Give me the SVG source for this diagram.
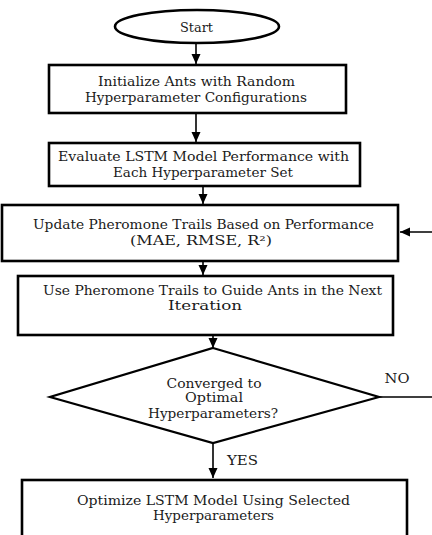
<svg xmlns="http://www.w3.org/2000/svg" width="432" height="535" viewBox="0 0 432 535">
<defs>
<style>
.n{fill:#fff;stroke:#000;stroke-width:2.6}
.d{fill:#fff;stroke:#000;stroke-width:2.2}
.t{font-family:'DejaVu Serif','Liberation Serif',serif;font-size:12px;fill:#1a1a1a;text-anchor:middle}
.c{fill:none;stroke:#000;stroke-width:1.6}
</style>
<marker id="ah" markerUnits="userSpaceOnUse" markerWidth="10" markerHeight="10" viewBox="0 0 10 10" refX="10" refY="5" orient="auto">
<path d="M0,0.5 L10,5 L0,9.5 Z" fill="#000"/>
</marker>
</defs>
<g id="connectors">
<path class="c" d="M196,43 V64" marker-end="url(#ah)"/>
<path class="c" d="M196,114 V142" marker-end="url(#ah)"/>
<path class="c" d="M203,187 V204" marker-end="url(#ah)"/>
<path class="c" d="M203,262 V275" marker-end="url(#ah)"/>
<path class="c" d="M213,336 V348" marker-end="url(#ah)"/>
<path class="c" d="M213,444 V478" marker-end="url(#ah)"/>
<path class="c" d="M379,397 H440 V232 H400" marker-end="url(#ah)"/>
<text class="t" x="397" y="383" textLength="25" lengthAdjust="spacingAndGlyphs">NO</text>
<text class="t" x="242.5" y="465" textLength="31" lengthAdjust="spacingAndGlyphs">YES</text>
</g>
<g id="start">
<ellipse class="n" cx="197" cy="26.5" rx="82" ry="16.5" stroke-width="2.2"/>
<text class="t" x="196.5" y="32" textLength="33" lengthAdjust="spacingAndGlyphs">Start</text>
</g>
<g id="init">
<rect class="n" x="49" y="65" width="297" height="48"/>
<text class="t" x="196.5" y="86" textLength="197" lengthAdjust="spacingAndGlyphs">Initialize Ants with Random</text>
<text class="t" x="196" y="102" textLength="222" lengthAdjust="spacingAndGlyphs">Hyperparameter Configurations</text>
</g>
<g id="evaluate">
<rect class="n" x="49" y="143" width="311" height="43"/>
<text class="t" x="203.5" y="161" textLength="291" lengthAdjust="spacingAndGlyphs">Evaluate LSTM Model Performance with</text>
<text class="t" x="203" y="177" textLength="180" lengthAdjust="spacingAndGlyphs">Each Hyperparameter Set</text>
</g>
<g id="update">
<rect class="n" x="2" y="205" width="396" height="56"/>
<text class="t" x="203.5" y="229" textLength="341" lengthAdjust="spacingAndGlyphs">Update Pheromone Trails Based on Performance</text>
<text class="t" x="201" y="245" textLength="142" lengthAdjust="spacingAndGlyphs">(MAE, RMSE, R²)</text>
</g>
<g id="guide">
<rect class="n" x="18" y="276" width="375" height="59"/>
<text class="t" x="212.5" y="295" textLength="339" lengthAdjust="spacingAndGlyphs">Use Pheromone Trails to Guide Ants in the Next</text>
<text class="t" x="205" y="310" textLength="74" lengthAdjust="spacingAndGlyphs">Iteration</text>
</g>
<g id="converged">
<polygon class="d" points="213,348 379,397 213,443 50,397"/>
<text class="t" x="214" y="388" textLength="95" lengthAdjust="spacingAndGlyphs">Converged to</text>
<text class="t" x="214" y="402" textLength="58" lengthAdjust="spacingAndGlyphs">Optimal</text>
<text class="t" x="213" y="418" textLength="130" lengthAdjust="spacingAndGlyphs">Hyperparameters?</text>
</g>
<g id="optimize">
<rect class="n" x="22" y="480" width="385" height="62"/>
<text class="t" x="213.5" y="505" textLength="273" lengthAdjust="spacingAndGlyphs">Optimize LSTM Model Using Selected</text>
<text class="t" x="213.5" y="520" textLength="121" lengthAdjust="spacingAndGlyphs">Hyperparameters</text>
</g>
</svg>
